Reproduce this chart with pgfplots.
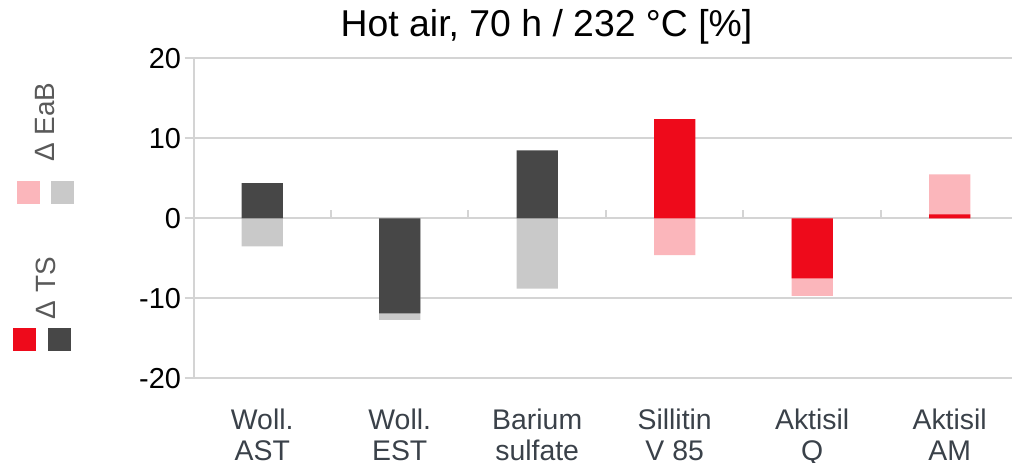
\documentclass[border=0pt]{standalone}
\usepackage{pgfplots}
\pgfplotsset{compat=1.18}
\usepackage{fontspec}
\setmainfont{Liberation Sans}
\definecolor{tsred}{HTML}{EE0A1B}
\definecolor{eabpink}{HTML}{FBB6BB}
\definecolor{tsdark}{HTML}{474747}
\definecolor{eabgrey}{HTML}{C9C9C9}
\definecolor{gridc}{HTML}{D4D4D4}
\definecolor{catc}{HTML}{3A4149}
\definecolor{legc}{HTML}{595959}
\begin{document}
\begin{tikzpicture}[x=1bp,y=1bp]
\path[use as bounding box] (0,0) rectangle (1012,463);
\begin{axis}[
  at={(193.5bp,84.7bp)}, anchor=south west,
  scale only axis, width=818bp, height=320bp,
  xmin=-0.5, xmax=5.45, ymin=-20, ymax=20,
  ytick={-20,-10,...,20},
  xtick={0,...,5},
  xticklabels={{Woll.\\AST},{Woll.\\EST},{Barium\\sulfate},{Sillitin\\V 85},{Aktisil\\Q},{Aktisil\\AM}},
  axis x line*=bottom, x axis line style={draw=none},
  axis y line*=left, y axis line style={draw=gridc, line width=2bp},
  ymajorgrids, grid style={draw=gridc, line width=2bp},
  major x tick style={draw=none},
  ytick style={draw=gridc, line width=2bp}, tick align=outside, major tick length=9bp,
  /pgf/number format/assume math mode=true,
  yticklabel style={font=\fontsize{29}{29}\selectfont, text=black},
  xticklabel style={font=\fontsize{28.5}{31}\selectfont, text=catc, align=center, anchor=north, inner sep=0pt, yshift=-21.5bp},
  clip=false,
]
\addplot[ybar, bar width=0.3, bar shift=0, fill=eabgrey, draw=none] coordinates {(0,-3.5) (1,-12.7) (2,-8.8)};
\addplot[ybar, bar width=0.3, bar shift=0, fill=eabpink, draw=none] coordinates {(3,-4.6) (4,-9.7) (5,5.5)};
\addplot[ybar, bar width=0.3, bar shift=0, fill=tsdark, draw=none] coordinates {(0,4.4) (1,-11.9) (2,8.5)};
\addplot[ybar, bar width=0.3, bar shift=0, fill=tsred, draw=none] coordinates {(3,12.4) (4,-7.5) (5,0.5)};
\pgfplotsinvokeforeach{0.5,1.5,2.5,3.5,4.5}{\draw[gridc, line width=2bp] (axis cs:#1,0) -- ++(0pt,8bp);}
\end{axis}
\node[anchor=base, font=\fontsize{37.5}{37.5}\selectfont] at (546.5,426.3) {Hot air, 70 h / 232 °C [\%]};
\fill[eabpink] (17,259) rectangle (40,282);
\fill[eabgrey] (51,259) rectangle (74,282);
\fill[tsred] (13,112.3) rectangle (36,135.3);
\fill[tsdark] (48,112.3) rectangle (71,135.3);
\node[rotate=90, text=legc, font=\fontsize{28}{28}\selectfont] at (45,341) {Δ EaB};
\node[rotate=90, text=legc, font=\fontsize{28}{28}\selectfont] at (46,175) {Δ TS};
\end{tikzpicture}
\end{document}
